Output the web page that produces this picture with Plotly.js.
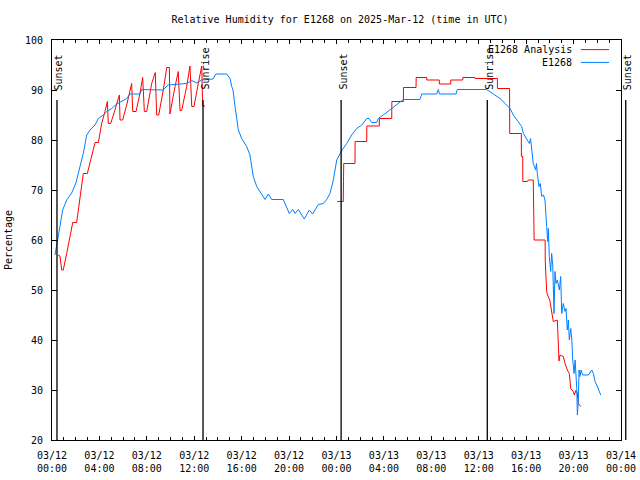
<!DOCTYPE html>
<html>
<head>
<meta charset="utf-8">
<script src="https://cdn.plot.ly/plotly-3.0.1.min.js"></script>
<style>html,body{margin:0;padding:0;background:#fff;}#chart{width:640px;height:480px;}</style>
</head>
<body>
<div id="chart"></div>
<script>
// Hours since 2025-03-12 00:00 UTC
const startDate = '2025-03-12';
const spanHours = 48;

// E1268 observed relative humidity (%)
const obsHours = [0.25,0.40,0.67,0.90,1.24,1.66,2.02,2.36,2.64,2.93,3.21,3.63,3.91,4.33,4.61,5.04,5.46,6.30,6.58,7.42,7.57,9.36,9.79,11.36,11.79,12.21,12.63,13.58,13.83,14.74,15.02,15.16,15.27,15.44,15.72,16.00,16.42,16.70,16.98,17.27,17.69,17.97,18.25,18.53,19.51,19.80,20.02,20.31,20.50,20.78,21.28,21.71,21.99,22.46,22.89,23.17,23.45,23.73,24.02,24.44,24.86,25.28,25.70,26.13,26.55,26.74,26.97,27.39,27.52,27.95,28.51,29.08,29.64,31.04,31.19,32.45,32.59,32.69,34.08,34.19,36.67,37.23,37.79,38.22,38.64,38.92,39.34,39.62,39.76,40.05,40.27,40.37,40.47,40.60,40.80,40.87,40.94,41.08,41.19,41.31,41.46,41.59,41.73,41.82,41.87,41.95,42.07,42.15,42.24,42.35,42.43,42.52,42.63,42.80,42.91,43.00,43.13,43.28,43.36,43.47,43.56,43.64,43.76,43.85,43.93,44.04,44.13,44.21,44.27,44.32,44.40,44.46,44.54,44.63,44.77,45.25,45.53,45.67,45.81,45.95,46.09,46.29];
const obsValues = [57,59.4,62.7,66,68,69.4,71.4,74.7,77.3,81,82,83,84.3,85,85.7,86.3,87.2,88.3,89.2,89.2,90.1,90,91,91.3,91.9,91.4,92,92.2,93.2,93.2,92.3,90.7,90,86.7,82,80.3,78.7,77,72.7,70.7,69,68.1,69.2,68.1,68.1,66.7,65.3,66.1,65.3,66.1,64.2,66,65.2,67.1,67.3,68.1,69.3,72,76,77.9,79.3,81,82.3,83,84.3,84.3,83.5,83.5,84.3,85,86,87,88.1,88.1,89.2,89.2,90.1,89.2,89.2,90.1,90.1,89.2,88.3,87.3,86.3,85,83.7,82.7,81.3,80.3,79.3,80.3,77.3,75.3,74,75.3,73.3,70.7,71.3,68.7,69,68,62.7,59.7,62.3,56.7,53.7,57.3,55,45.3,53.7,51.3,52,50,52.7,45.3,47.3,45.7,46.3,42,44,40,42.3,40,36,33.3,36,33.3,30.3,25,28,34,32.7,34,33,33,34,33.3,31.7,31,30,29];

// E1268 Analysis relative humidity (%); null = gap in the analysis
const anaHours = [0.51,0.67,0.82,0.95,1.24,1.52,1.75,2.08,2.36,2.64,2.98,3.35,3.63,3.91,4.19,4.47,4.67,4.75,4.95,5.31,5.59,5.68,5.74,5.96,6.30,6.58,6.72,6.81,7.09,7.42,7.65,7.79,7.99,8.41,8.71,8.83,9.00,9.39,9.68,9.90,9.95,10.38,10.65,10.80,10.94,11.36,11.64,11.79,11.98,12.34,12.63,12.71,12.91,
  null,
  24.07,24.57,24.59,24.61,25.56,25.57,26.55,26.56,27.61,27.62,28.66,28.67,29.64,29.65,30.71,30.72,31.61,31.62,32.67,32.68,33.63,33.64,34.65,34.66,35.68,35.69,37.57,37.58,38.60,38.61,39.59,39.60,39.71,39.72,40.10,40.18,40.60,40.66,40.67,41.60,41.61,41.73,41.80,41.99,42.15,42.29,42.63,42.71,42.77,42.85,43.13,43.28,43.47,43.64,43.76,43.98,44.06,44.20,44.32,44.40,44.60];
const anaValues = [57,56.8,54,54,57.3,60.7,63.5,63.5,68.7,73.3,73.3,77,79.5,79.5,83.3,85.7,87.7,83.3,83.3,86,88.3,89,84,84,87,90,91.3,85.7,85.7,89.3,92.5,85.7,85.7,91.3,93.5,85,85,90,94.5,94.5,85.2,90.7,93.7,85.9,85.9,90.7,94.8,86.7,86.7,91.3,94.8,86.8,86.8,
  null,
  67.7,67.7,71.7,75.3,75.3,79.7,79.7,82.8,82.8,84.3,84.3,87.7,87.7,90.5,90.5,92.5,92.5,92,92,91.2,91.2,92,92,92.5,92.5,92.3,92.3,90.3,90.3,81.3,81.3,76.7,76.7,71.7,71.7,72,72,66,60,60,55.7,49.7,49,48,46,43.7,44,40,35.8,37,36.7,35.3,34,33.3,30.3,29.7,29,29.9,29.3,27.3,26.7];

// Sun events (hours since start)
const sunHours = [0.42, 12.74, 24.39, 36.72, 48.40];
const sunLabels = ['Sunset', 'Sunrise', 'Sunset', 'Sunrise', 'Sunset'];

const seriesNames = ['E1268 Analysis', 'E1268'];
const seriesColors = ['#ff0000', '#0080ff'];

const titleText = 'Relative Humidity for E1268 on 2025-Mar-12 (time in UTC)';
const yTitle = 'Percentage';

const baseMs = Date.parse(startDate + 'T00:00:00Z');
function toDate(h) {
  if (h === null) return null;
  return new Date(baseMs + h * 3600000).toISOString().replace('T', ' ').replace('Z', '');
}

const FONT = 'DejaVu Sans Mono, monospace';
const W = 640, H = 480;
const margin = {l: 52, r: 12, t: 40, b: 40};
const plotW = W - margin.l - margin.r;
const mainW = 569;
const dom = mainW / plotW;

const traces = [];

// Sun event vertical lines on a wider hidden axis so the last one can sit past the frame
const sx = [], sy = [];
sunHours.forEach(h => { sx.push(toDate(h), toDate(h), null); sy.push(20, 88, null); });
traces.push({
  x: sx, y: sy, xaxis: 'x2', yaxis: 'y', type: 'scatter', mode: 'lines',
  line: {color: '#000', width: 1.3}, showlegend: false, hoverinfo: 'skip'
});

traces.push({
  x: anaHours.map(toDate), y: anaValues, xaxis: 'x', yaxis: 'y',
  type: 'scatter', mode: 'lines', name: seriesNames[0],
  line: {color: seriesColors[0], width: 1}, connectgaps: false, showlegend: false
});
traces.push({
  x: obsHours.map(toDate), y: obsValues, xaxis: 'x', yaxis: 'y',
  type: 'scatter', mode: 'lines', name: seriesNames[1],
  line: {color: seriesColors[1], width: 1}, showlegend: false
});

const annotations = sunHours.map((h, i) => ({
  x: toDate(h), y: 89.6, xref: 'x2', yref: 'y', text: sunLabels[i],
  showarrow: false, textangle: -90, xanchor: 'center', yanchor: 'bottom', xshift: 1.5,
  font: {family: FONT, size: 10, color: '#000'}
}));

// gnuplot-style key: text right-aligned, sample line to the right
const keyY = [0.976, 0.944];
const shapes = [];
seriesNames.forEach((n, i) => {
  annotations.push({
    x: 0.907, y: keyY[i], xref: 'paper', yref: 'paper', text: n, showarrow: false,
    xanchor: 'right', yanchor: 'middle', font: {family: FONT, size: 10, color: '#000'}
  });
  shapes.push({
    type: 'line', xref: 'paper', yref: 'paper', x0: 0.918, x1: 0.967, y0: keyY[i], y1: keyY[i],
    line: {color: seriesColors[i], width: 1}
  });
});

const layout = {
  width: W, height: H, margin: margin,
  paper_bgcolor: '#fff', plot_bgcolor: 'rgba(0,0,0,0)',
  font: {family: FONT, size: 10, color: '#000'},
  title: {text: titleText, x: 0.5, xref: 'paper', y: 0.96, yref: 'container', yanchor: 'middle',
          font: {family: FONT, size: 10, color: '#000'}},
  showlegend: false,
  xaxis: {
    type: 'date', domain: [0, dom], anchor: 'y',
    range: [toDate(0), toDate(spanHours)],
    tick0: toDate(0), dtick: 4 * 3600000, tickformat: '%m/%d<br>%H:%M',
    ticks: 'inside', ticklen: 4, tickcolor: '#000', tickwidth: 1,
    minor: {dtick: 3600000, ticks: 'inside', ticklen: 3, tickcolor: '#000', tickwidth: 1, showgrid: false},
    showline: true, linecolor: '#000', linewidth: 1, mirror: 'ticks',
    showgrid: false, zeroline: false, ticklabelstandoff: 6,
    tickfont: {family: FONT, size: 10, color: '#000'}
  },
  xaxis2: {
    type: 'date', domain: [0, 1], anchor: 'y', visible: false,
    range: [toDate(0), toDate(spanHours / dom)], showgrid: false, zeroline: false
  },
  yaxis: {
    range: [20, 100], dtick: 10, anchor: 'x',
    ticks: 'inside', ticklen: 5, tickcolor: '#000',
    showline: true, linecolor: '#000', linewidth: 1, mirror: 'ticks',
    showgrid: false, zeroline: false, ticklabelstandoff: 6,
    tickfont: {family: FONT, size: 10, color: '#000'},
    title: {text: yTitle, font: {family: FONT, size: 10, color: '#000'}, standoff: 10}
  },
  annotations: annotations,
  shapes: shapes
};

Plotly.newPlot('chart', traces, layout, {staticPlot: true, displayModeBar: false});
</script>
</body>
</html>
